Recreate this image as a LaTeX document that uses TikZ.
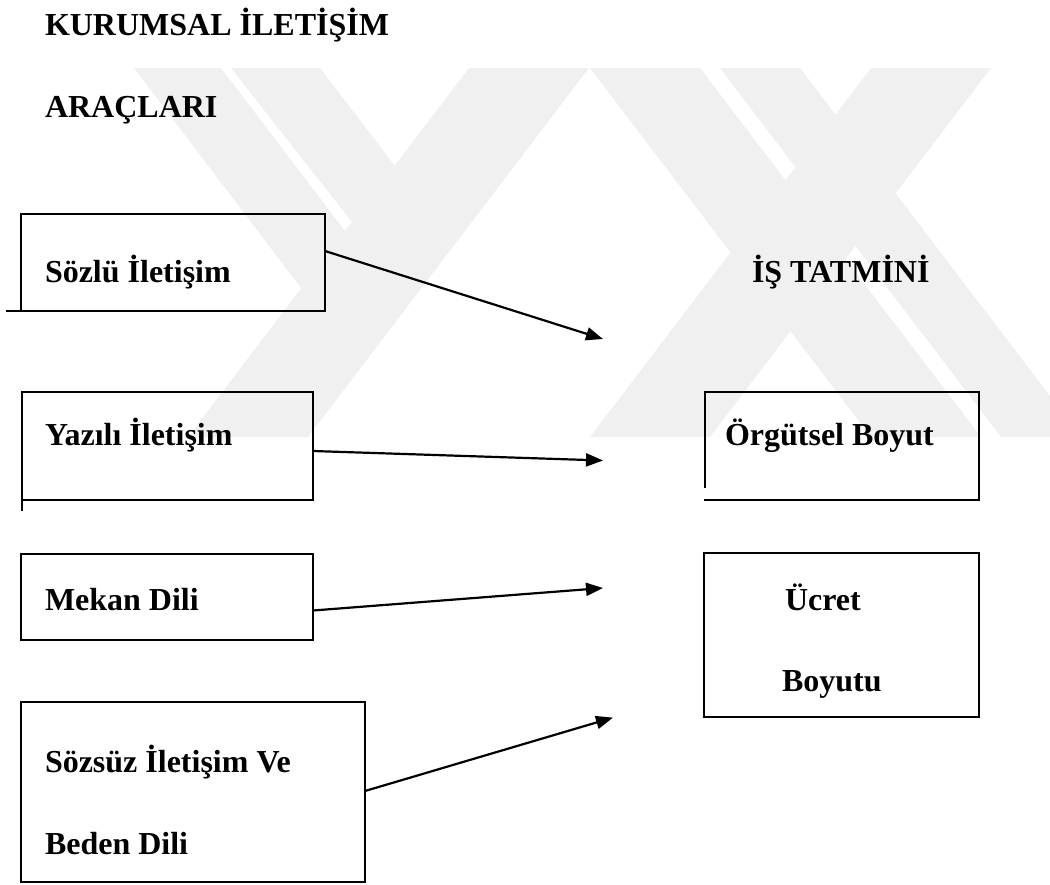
\documentclass[tikz,border=0pt]{standalone}
\usepackage{fontspec}
\setmainfont{Liberation Serif}
\usetikzlibrary{arrows.meta,calc}
\tikzset{
  bx/.style={inner sep=0pt, outer sep=0pt, draw=none},
  edge/.style={line width=2pt, line cap=rect},
  lbl/.style={inner sep=0pt, outer sep=0pt, anchor=base west, font=\fontsize{32}{40}\selectfont\bfseries},
  conn/.style={line width=2.2pt, -{Triangle[length=17pt,width=13pt]}},
  wm/.style={fill=black!6, draw=none}
}
\begin{document}
\begin{tikzpicture}[x=1pt,y=-1pt]
\useasboundingbox (0,0) rectangle (1050,884);
% faint watermark
\fill[wm] (469,68) -- (589,68) -- (308,437) -- (188,437) -- cycle;
\fill[wm] (134,68) -- (221,68) -- (345,231) -- (301,288) -- cycle;
\fill[wm] (231,68) -- (320,68) -- (395,166) -- (352,222) -- cycle;
\fill[wm] (871,68) -- (991,68) -- (710,437) -- (590,437) -- cycle;
\fill[wm] (590,68) -- (700,68) -- (981,437) -- (871,437) -- cycle;
\fill[wm] (720,68) -- (800,68) -- (1050,396) -- (1050,437) -- (1001,437) -- cycle;

% boxes
\node[bx, minimum width=304.3pt, minimum height=97pt] (soz) at (172.85,262.5) {};
\node[bx, minimum width=291.5pt, minimum height=108pt] (yaz) at (167.25,446) {};
\node[bx, minimum width=292pt, minimum height=86pt] (mek) at (167,597) {};
\node[bx, minimum width=344pt, minimum height=180pt] (szz) at (193,792) {};
\node[bx, minimum width=274.5pt, minimum height=108pt] (org) at (841.75,446) {};
\node[bx, minimum width=275pt, minimum height=164pt] (ucr) at (841.5,635) {};

\draw[edge] (soz.north west) rectangle (soz.south east);
\draw[edge] (soz.south west) -- ++(-13.7,0);
\draw[edge] (yaz.north west) rectangle (yaz.south east);
\draw[edge] (yaz.south west) -- ++(0,10);
\draw[edge] (mek.north west) rectangle (mek.south east);
\draw[edge] (szz.north west) rectangle (szz.south east);
\draw[edge] (org.south west) -- (org.south east) -- (org.north east) -- (org.north west) -- ++(0,95);
\draw[edge] (ucr.north west) rectangle (ucr.south east);

% texts
\node[lbl] (t1) at (45,35) {KURUMSAL İLETİŞİM};
\node[lbl] (t2) at (45,117) {ARAÇLARI};
\node[lbl] (ls) at (45,282) {Sözlü İletişim};
\node[lbl] (it) at (752,282) {İŞ TATMİNİ};
\node[lbl] (ly) at (45,445) {Yazılı İletişim};
\node[lbl] (lo) at (725,445) {Örgütsel Boyut};
\node[lbl] (lm) at (45,610) {Mekan Dili};
\node[lbl] (lu1) at (785,610) {Ücret};
\node[lbl] (lu2) at (782,691) {Boyutu};
\node[lbl] (lz1) at (45,772) {Sözsüz İletişim Ve};
\node[lbl] (lz2) at (45,854) {Beden Dili};

% arrow ends
\coordinate (e1) at (603,339);
\coordinate (e2) at (603,460.5);
\coordinate (e3) at (603,588);
\coordinate (e4) at (613,717.6);

\draw[conn] ($(soz.north east)+(0,37)$) -- (e1);
\draw[conn] ($(yaz.north east)+(0,59)$) -- (e2);
\draw[conn] ($(mek.north east)+(0,56.5)$) -- (e3);
\draw[conn] ($(szz.north east)+(0,89)$) -- (e4);
\end{tikzpicture}
\end{document}
